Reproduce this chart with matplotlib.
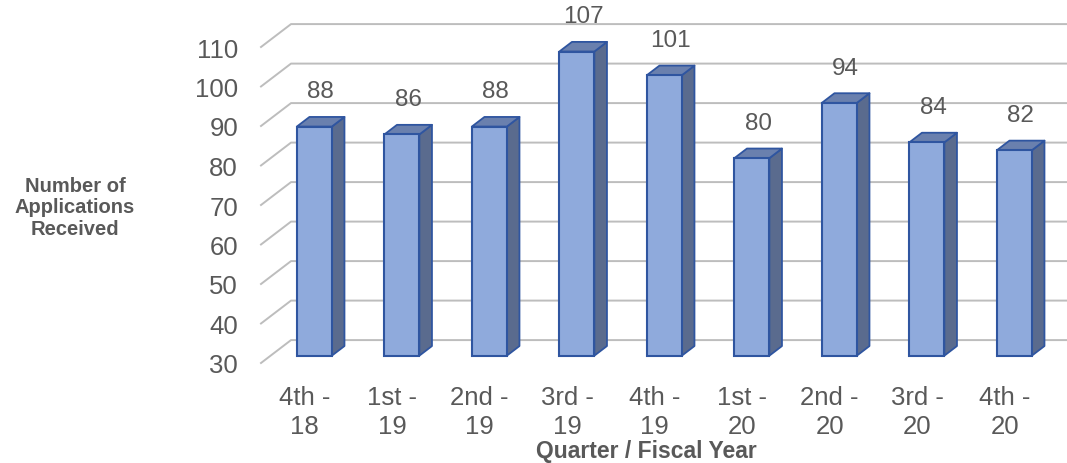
import matplotlib.pyplot as plt
from matplotlib.patches import Polygon, Rectangle

plt.rcParams['font.family'] = ['Liberation Sans', 'DejaVu Sans']

# data
quarters = ['4th -\n18', '1st -\n19', '2nd -\n19', '3rd -\n19', '4th -\n19',
            '1st -\n20', '2nd -\n20', '3rd -\n20', '4th -\n20']
applications = [88, 86, 88, 107, 101, 80, 94, 84, 82]
y_ticks = [30, 40, 50, 60, 70, 80, 90, 100, 110]

# fake 3d geometry (depth expressed in category / value units)
depth_x = 0.343
depth_y = 5.8
bar_w = 0.40
bar_front = 0.32   # where the bar front face sits, as part of the depth
bar_depth = 0.42   # how deep the bar is

grey_text = '#595959'
grid_col = '#BDBDBD'
face_col = '#8FAADC'
side_col = '#5A6B8E'
top_col = '#6A80AE'
edge_col = '#2F55A0'

fig = plt.figure(figsize=(10.67, 4.64), dpi=100)
ax = fig.add_axes([261 / 1067, 100 / 464, 787.5 / 1067, 316 / 464])
ax.set_xlim(-0.5, len(quarters) - 0.5)
ax.set_ylim(y_ticks[0], y_ticks[-1])
for s in ax.spines.values():
    s.set_visible(False)

ax.set_yticks(y_ticks)
ax.set_xticks(range(len(quarters)))
ax.set_xticklabels(quarters, linespacing=1.25)
ax.tick_params(axis='y', length=0, pad=16.5, labelsize=18.5, labelcolor=grey_text)
ax.tick_params(axis='x', length=0, pad=16, labelsize=18.5, labelcolor=grey_text)

# gridlines: short diagonal on the left side wall, then across the back wall
x_left, x_right = ax.get_xlim()
for v in y_ticks:
    ax.plot([x_left, x_left + depth_x, x_right + depth_x + 0.1],
            [v, v + depth_y, v + depth_y],
            color=grid_col, lw=1.4, clip_on=False, zorder=1)

ddx = bar_depth * depth_x
ddy = bar_depth * depth_y
base = y_ticks[0]
for i, v in enumerate(applications):
    x0 = i - bar_w / 2 + bar_front * depth_x
    y0 = base + bar_front * depth_y
    top = v + bar_front * depth_y
    x1 = x0 + bar_w
    side = [(x1, y0), (x1 + ddx, y0 + ddy), (x1 + ddx, top + ddy), (x1, top)]
    lid = [(x0, top), (x0 + ddx, top + ddy), (x1 + ddx, top + ddy), (x1, top)]
    ax.add_patch(Polygon(side, closed=True, facecolor=side_col, edgecolor=edge_col,
                         lw=1.3, clip_on=False, zorder=3, joinstyle='round'))
    ax.add_patch(Polygon(lid, closed=True, facecolor=top_col, edgecolor=edge_col,
                         lw=1.3, clip_on=False, zorder=3, joinstyle='round'))
    ax.add_patch(Rectangle((x0, y0), bar_w, top - y0, facecolor=face_col,
                           edgecolor=edge_col, lw=1.5, clip_on=False, zorder=4))
    ax.annotate(str(v), xy=(x0 + bar_w / 2 + ddx / 2, top + ddy),
                xytext=(0, 18.5), textcoords='offset points',
                ha='center', va='center', fontsize=17.5, color=grey_text,
                annotation_clip=False)

fig.text(646 / 1067, 1 - 452 / 464, 'Quarter / Fiscal Year', ha='center', va='center',
         fontsize=16.5, fontweight='bold', color=grey_text)
fig.text(75 / 1067, 1 - 208 / 464, 'Number of\nApplications\nReceived', ha='center',
         va='center', multialignment='center', linespacing=1.15,
         fontsize=14.5, fontweight='bold', color=grey_text)

fig.savefig('out.png', dpi=100)
